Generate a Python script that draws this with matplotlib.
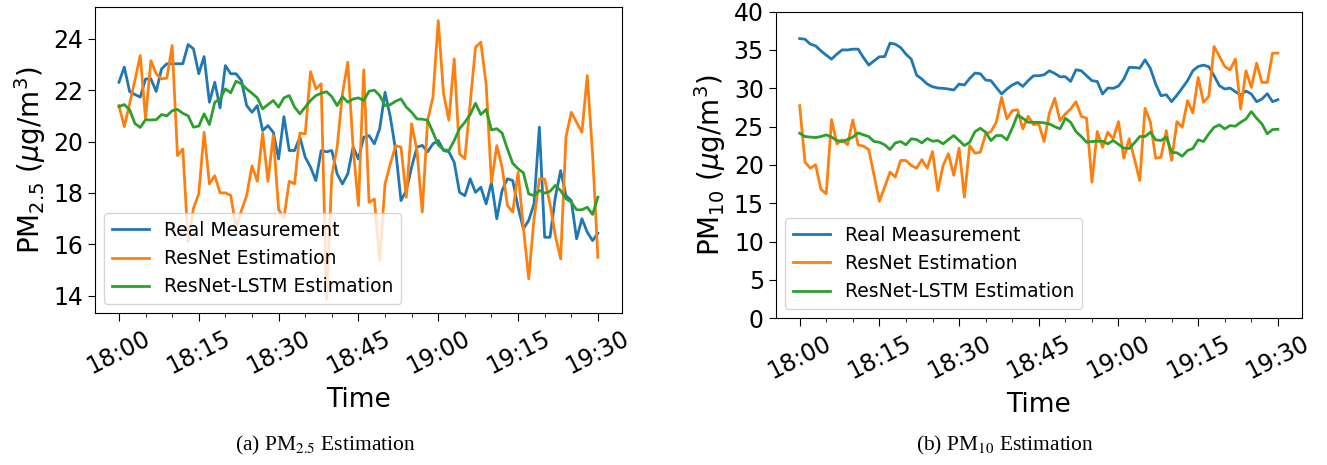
import matplotlib
matplotlib.use("Agg")
import matplotlib.pyplot as plt
from matplotlib.ticker import MultipleLocator
import numpy as np

minutes = list(range(91))
tick_pos = [0, 15, 30, 45, 60, 75, 90]
tick_labels = ["18:00", "18:15", "18:30", "18:45", "19:00", "19:15", "19:30"]
series_names = ["Real Measurement", "ResNet Estimation", "ResNet-LSTM Estimation"]

pm25_real = [22.31, 22.9, 21.95, 21.83, 21.73, 22.44, 22.44, 21.95, 22.83, 23.03,
             23.03, 23.03, 23.03, 23.78, 23.61, 22.64, 23.31, 21.53, 22.31, 21.31,
             22.96, 22.64, 22.64, 22.38, 21.40, 21.14, 21.40, 20.43, 20.62, 20.36,
             19.32, 20.97, 19.65, 19.65, 20.17, 19.39, 19.0, 18.48, 19.65, 19.6,
             19.65, 18.74, 18.35, 18.74, 19.78, 19.32, 20.17, 20.23, 19.91, 20.5,
             21.92, 20.95, 19.65, 17.7, 18.09, 19.0, 19.78, 19.85, 19.6, 19.91,
             20.04, 19.65, 19.6, 19.19, 18.02, 17.89, 18.55, 18.02, 18.22, 17.57,
             18.41, 16.99, 18.09, 18.55, 18.48, 17.44, 16.6, 16.93, 17.57, 20.56,
             16.27, 16.27, 17.83, 18.87, 17.89, 17.7, 16.21, 16.99, 16.47, 16.14,
             16.43]
pm25_resnet = [21.4, 20.58, 21.47, 22.38, 23.35, 20.88, 23.15, 22.64, 22.44, 22.47,
               23.74, 19.45, 19.71, 16.08, 17.4, 17.96, 20.36, 18.35, 18.67, 18.0,
               18.0, 17.9, 16.66, 17.3, 17.9, 19.05, 18.45, 20.33, 18.45, 20.24,
               17.35, 17.02, 18.45, 18.35, 20.33, 20.3, 22.72, 22.05, 22.25, 13.85,
               18.67, 19.78, 21.86, 23.09, 19.78, 17.51, 22.79, 17.63, 17.76, 15.36,
               18.35, 19.13, 19.84, 19.78, 17.83, 20.69, 19.65, 17.25, 20.83, 21.72,
               24.71, 21.86, 20.83, 23.22, 19.52, 19.33, 21.47, 23.67, 23.87, 22.25,
               18.41, 19.84, 19.0, 17.51, 17.25, 18.8, 16.66, 14.65, 16.99, 18.54,
               18.54, 17.57, 16.34, 15.43, 20.17, 21.14, 20.75, 20.36, 22.57, 19.52,
               15.49]
pm25_lstm = [21.36, 21.44, 21.24, 20.7, 20.55, 20.85, 20.84, 20.85, 21.05, 21.0,
             21.2, 21.25, 21.1, 21.0, 20.56, 20.6, 21.08, 20.66, 21.53, 21.66,
             22.05, 21.9, 22.35, 22.25, 22.05, 21.88, 21.7, 21.27, 21.44, 21.6,
             21.34, 21.7, 21.79, 21.34, 21.08, 21.34, 21.6, 21.79, 21.88, 21.94,
             21.75, 21.4, 21.75, 21.53, 21.66, 21.7, 21.6, 21.96, 22.0, 21.79,
             21.4, 21.44, 21.57, 21.66, 21.34, 21.14, 20.88, 20.87, 20.83, 20.36,
             19.87, 19.68, 19.65, 20.04, 20.5, 20.75, 21.05, 21.49, 21.05, 21.25,
             20.45, 20.5, 20.33, 19.71, 19.15, 18.94, 18.78, 17.96, 17.89, 18.09,
             17.99, 18.06, 18.29, 18.09, 17.77, 17.64, 17.34, 17.34, 17.44, 17.16,
             17.83]

pm10_real = [36.49, 36.41, 35.76, 35.54, 34.89, 34.33, 33.81, 34.46, 35.02, 35.0,
             35.11, 35.11, 34.02, 33.03, 33.59, 34.11, 34.14, 35.89, 35.76, 35.32,
             34.46, 33.81, 31.73, 31.21, 30.56, 30.21, 30.04, 30.0, 29.91, 29.78,
             30.56, 30.43, 31.29, 31.99, 31.9, 31.08, 31.0, 30.12, 29.26, 29.91,
             30.43, 30.77, 30.25, 31.0, 31.64, 31.64, 31.77, 32.29, 31.94, 31.51,
             31.51, 30.9, 32.42, 32.29, 31.64, 31.0, 30.9, 29.26, 30.04, 30.0,
             30.3, 31.21, 32.72, 32.72, 32.63, 33.72, 32.6, 30.56, 29.04, 29.17,
             28.26, 29.1, 30.04, 31.0, 32.29, 32.85, 33.03, 32.81, 31.64, 30.34,
             29.91, 30.04, 29.56, 29.1, 29.65, 29.26, 28.26, 28.61, 29.3, 28.26,
             28.52]
pm10_resnet = [27.74, 20.36, 19.58, 20.03, 16.81, 16.25, 25.92, 22.76, 23.28, 22.63,
               25.88, 22.63, 22.45, 22.02, 18.64, 15.26, 17.12, 19.07, 18.42, 20.59,
               20.59, 19.94, 19.58, 20.7, 19.58, 21.76, 16.68, 19.94, 21.46, 18.64,
               22.19, 15.81, 22.54, 21.54, 21.67, 24.06, 24.36, 25.57, 28.82, 26.01,
               27.09, 27.2, 24.71, 26.35, 25.27, 25.36, 23.06, 26.79, 28.69, 25.79,
               26.66, 27.31, 28.26, 26.35, 26.09, 17.76, 24.36, 22.31, 24.28, 23.41,
               25.66, 20.88, 23.41, 20.81, 17.98, 27.39, 25.62, 20.88, 21.0, 24.49,
               20.59, 25.66, 24.92, 28.39, 26.79, 31.42, 28.17, 28.95, 35.45, 34.15,
               32.85, 32.42, 33.81, 27.31, 32.29, 30.12, 33.29, 30.77, 30.77, 34.59,
               34.59]
pm10_lstm = [24.14, 23.71, 23.64, 23.58, 23.71, 23.93, 23.64, 23.19, 23.06, 23.32,
             23.64, 24.19, 23.93, 23.71, 23.06, 22.97, 22.63, 22.02, 22.88, 23.06,
             22.63, 23.41, 23.32, 22.88, 23.45, 23.1, 23.19, 22.76, 23.32, 23.84,
             23.19, 22.54, 22.97, 24.36, 24.79, 24.28, 23.19, 23.84, 23.84, 23.28,
             24.79, 26.53, 26.09, 25.57, 25.57, 25.57, 25.49, 25.36, 25.0, 24.71,
             26.09, 25.57, 24.36, 23.71, 22.97, 23.06, 23.1, 23.1, 22.76, 23.19,
             22.7, 22.19, 22.15, 22.88, 23.71, 23.71, 24.28, 23.28, 23.19, 23.64,
             21.66, 21.59, 21.15, 21.89, 22.15, 23.28, 23.06, 24.06, 24.92, 25.23,
             24.71, 25.14, 25.06, 25.57, 26.0, 26.96, 26.09, 25.36, 24.06, 24.62,
             24.66]

colors = ["#1f77b4", "#ff7f0e", "#2ca02c"]

plt.rcParams["font.family"] = ["DejaVu Sans"]
fig = plt.figure(figsize=(13.27, 4.65), dpi=100)
ax1 = fig.add_axes([0.0716, 0.3262, 0.3970, 0.6594])
ax2 = fig.add_axes([0.5846, 0.3155, 0.3964, 0.6594])

def style(ax, data, ylabel):
    for vals, name, c in zip(data, series_names, colors):
        ax.plot(minutes, vals, color=c, lw=2.0, label=name)
    ax.set_xticks(tick_pos)
    ax.set_xticklabels(tick_labels, rotation=27, fontsize=17)
    ax.xaxis.set_minor_locator(MultipleLocator(5))
    ax.tick_params(axis="y", labelsize=17, length=5)
    ax.tick_params(axis="x", which="major", length=6)
    ax.tick_params(axis="x", which="minor", length=3)
    ax.set_xlabel("Time", fontsize=19, labelpad=6)
    ax.set_ylabel(ylabel, fontsize=20)
    ax.legend(loc="lower left", fontsize=13.5)

style(ax1, [pm25_real, pm25_resnet, pm25_lstm], r"PM$_{2.5}$ ($\mu$g/m$^3$)")
ax1.set_yticks([14, 16, 18, 20, 22, 24])
style(ax2, [pm10_real, pm10_resnet, pm10_lstm], r"PM$_{10}$ ($\mu$g/m$^3$)")
ax2.set_ylim(0, 40)
ax2.set_yticks(range(0, 41, 5))

fig.text(0.245, 0.043, r"(a) PM$_{2.5}$ Estimation", ha="center", va="center",
         fontsize=15.5, family="Liberation Serif", math_fontfamily="stix")
fig.text(0.757, 0.043, r"(b) PM$_{10}$ Estimation", ha="center", va="center",
         fontsize=15.5, family="Liberation Serif", math_fontfamily="stix")

fig.savefig("out.png", dpi=100)
